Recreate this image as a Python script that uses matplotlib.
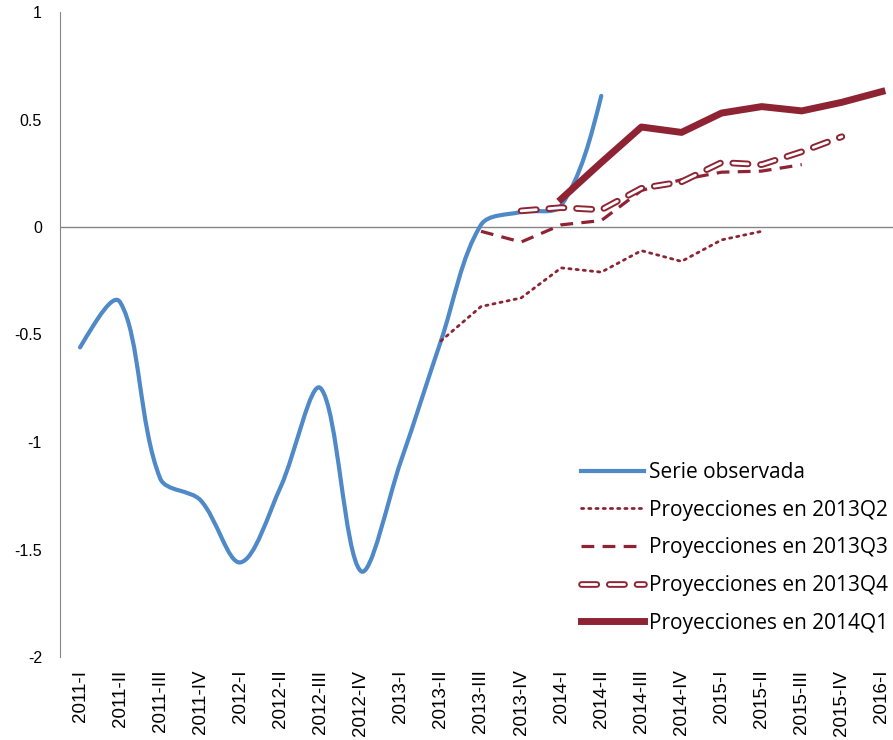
import matplotlib.pyplot as plt
import numpy as np
from matplotlib.path import Path
from matplotlib.patches import PathPatch
from matplotlib.lines import Line2D
import matplotlib.patheffects as pe

plt.rcParams['font.family'] = ['Liberation Sans', 'DejaVu Sans']

quarters = ['2011-I', '2011-II', '2011-III', '2011-IV',
            '2012-I', '2012-II', '2012-III', '2012-IV',
            '2013-I', '2013-II', '2013-III', '2013-IV',
            '2014-I', '2014-II', '2014-III', '2014-IV',
            '2015-I', '2015-II', '2015-III', '2015-IV', '2016-I']

# observed series (2011-I .. 2014-II)
observed = [-0.56, -0.35, -1.17, -1.27, -1.56, -1.21, -0.75, -1.60,
            -1.09, -0.53, 0.01, 0.07, 0.10, 0.61]

# projections: (first quarter index, values)
start_q2 = 9
proj_q2 = [-0.53, -0.37, -0.33, -0.19, -0.21, -0.11, -0.16, -0.06, -0.02]
start_q3 = 10
proj_q3 = [-0.02, -0.07, 0.01, 0.03, 0.17, 0.22, 0.255, 0.26, 0.29]
start_q4 = 11
proj_q4 = [0.075, 0.09, 0.08, 0.18, 0.21, 0.30, 0.29, 0.35, 0.42]
start_q1 = 12
proj_14q1 = [0.13, 0.30, 0.465, 0.44, 0.53, 0.56, 0.54, 0.58, 0.63]

blue = '#4F89C7'
red = '#8E2433'


def smooth_path(y, yscale=5.36, f=1 / 3):
    # Bezier smoothing, control arms scaled by neighbouring chord lengths
    n = len(y)
    pts = np.column_stack([np.arange(n, dtype=float), np.asarray(y, dtype=float)])
    scale = np.array([1.0, yscale])

    def dist(a, b):
        return np.hypot(*((pts[b] - pts[a]) * scale))

    c_in = pts.copy()
    c_out = pts.copy()
    for i in range(1, n - 1):
        d0, d1 = dist(i - 1, i), dist(i, i + 1)
        tang = pts[i + 1] - pts[i - 1]
        c_in[i] = pts[i] - f * d0 / (d0 + d1) * tang
        c_out[i] = pts[i] + f * d1 / (d0 + d1) * tang
    c_out[0] = pts[0] + (c_in[1] - pts[0]) / 2
    c_in[-1] = pts[-1] + (c_out[-2] - pts[-1]) / 2

    verts = [tuple(pts[0])]
    codes = [Path.MOVETO]
    for i in range(n - 1):
        verts += [tuple(c_out[i]), tuple(c_in[i + 1]), tuple(pts[i + 1])]
        codes += [Path.CURVE4] * 3
    return Path(verts, codes)


fig = plt.figure(figsize=(8.93, 7.4), dpi=100)
ax = fig.add_axes([60 / 893, 83 / 740, 842 / 893, 645 / 740])

ax.axhline(0, color='#868686', lw=1.0, zorder=1)

ax.add_patch(PathPatch(smooth_path(observed), facecolor='none',
                       edgecolor=blue, lw=3.0, capstyle='round', zorder=3))

dot_style = dict(color=red, lw=2.0, ls=(0, (0.8, 1.8)), dash_capstyle='round')
dash_style = dict(color=red, lw=2.3, ls=(0, (4, 2.6)))
ring_style = dict(color='white', lw=2.0, ls=(0, (5.5, 4.5)), dash_capstyle='round',
                  path_effects=[pe.Stroke(linewidth=4.8, foreground=red), pe.Normal()])
thick_style = dict(color=red, lw=5.0)

xq2 = np.arange(start_q2, start_q2 + len(proj_q2))
ax.plot(xq2, proj_q2, zorder=4, **dot_style)

xq3 = np.arange(start_q3, start_q3 + len(proj_q3))
ax.plot(xq3, proj_q3, zorder=4, **dash_style)

xq4 = np.arange(start_q4, start_q4 + len(proj_q4))
ax.plot(xq4, proj_q4, zorder=4, **ring_style)

xq1 = np.arange(start_q1, start_q1 + len(proj_14q1))
ax.plot(xq1, proj_14q1, zorder=5, **thick_style)

ax.set_xlim(-0.5, 20.5)
ax.set_ylim(-2, 1)
ax.set_xticks(range(len(quarters)))
ax.set_xticklabels(quarters, rotation=90, fontsize=13.5)
ax.set_yticks([-2, -1.5, -1, -0.5, 0, 0.5, 1])
ax.set_yticklabels(['-2', '-1.5', '-1', '-0.5', '0', '0.5', '1'], fontsize=11.5)
ax.tick_params(axis='both', length=0)
ax.tick_params(axis='y', pad=13)
ax.tick_params(axis='x', pad=9)
for side in ['top', 'right', 'bottom']:
    ax.spines[side].set_visible(False)
ax.spines['left'].set_color('#868686')

# legend handles
handles = [Line2D([], [], color=blue, lw=3.0),
           Line2D([], [], **dot_style),
           Line2D([], [], **dash_style),
           Line2D([], [], **ring_style),
           Line2D([], [], **thick_style)]
labels = ['Serie observada', 'Proyecciones en 2013Q2', 'Proyecciones en 2013Q3',
          'Proyecciones en 2013Q4', 'Proyecciones en 2014Q1']
fig.legend(handles, labels,
           loc='upper left', bbox_to_anchor=(581 / 893, 1 - 462 / 740),
           frameon=False, prop={'family': ['Open Sans', 'DejaVu Sans'], 'size': 15},
           handlelength=3.0, handletextpad=0.25, labelspacing=0.8,
           borderpad=0, borderaxespad=0)

fig.savefig('out.png', dpi=100)
